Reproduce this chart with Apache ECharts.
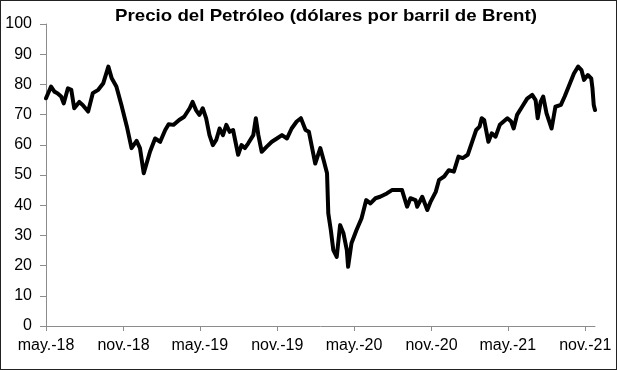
<!DOCTYPE html>
<html><head><meta charset="utf-8">
<script src="https://cdn.jsdelivr.net/npm/echarts@6/dist/echarts.min.js"></script>
<style>
html,body{margin:0;padding:0;background:#fff;}
#c{width:617px;height:370px;box-sizing:border-box;border:1px solid #222;}
</style></head>
<body><div id="c"></div>
<script>
const titleText = 'Precio del Petróleo (dólares por barril de Brent)';
const tickDates = ['2018-05-01','2018-11-01','2019-05-01','2019-11-01','2020-05-01','2020-11-01','2021-05-01','2021-11-01'];
const tickLabels = ['may.-18','nov.-18','may.-19','nov.-19','may.-20','nov.-20','may.-21','nov.-21'];
const axisStart = '2018-05-01';
const axisEnd = '2021-11-24';
const dates = [
'2018-05-01','2018-05-13','2018-05-21','2018-05-28','2018-06-06','2018-06-12','2018-06-22','2018-06-30','2018-07-07','2018-07-19','2018-07-27','2018-08-09','2018-08-20','2018-09-02','2018-09-14','2018-09-26','2018-10-04','2018-10-15','2018-10-27','2018-11-09','2018-11-20','2018-12-02','2018-12-10','2018-12-19',
'2019-01-03','2019-01-15','2019-01-27','2019-02-08','2019-02-16','2019-02-28','2019-03-13','2019-03-25','2019-04-07','2019-04-14','2019-04-22','2019-04-30','2019-05-08','2019-05-16','2019-05-24','2019-06-01','2019-06-09','2019-06-17','2019-06-25','2019-07-03','2019-07-11','2019-07-19','2019-07-31','2019-08-08','2019-08-16','2019-08-24','2019-09-05','2019-09-11','2019-09-17','2019-09-25','2019-10-07','2019-10-19','2019-10-31','2019-11-12','2019-11-24','2019-12-05','2019-12-17','2019-12-27',
'2020-01-07','2020-01-15','2020-01-22','2020-01-30','2020-02-11','2020-02-19','2020-02-27','2020-03-01','2020-03-07','2020-03-13','2020-03-21','2020-03-29','2020-04-06','2020-04-14','2020-04-17','2020-04-25','2020-05-07','2020-05-19','2020-05-30','2020-06-09','2020-06-21','2020-07-02','2020-07-18','2020-07-30','2020-08-11','2020-08-23','2020-09-04','2020-09-12','2020-09-24','2020-09-28','2020-10-10','2020-10-22','2020-10-30','2020-11-11','2020-11-19','2020-12-01','2020-12-12','2020-12-24',
'2021-01-04','2021-01-14','2021-01-26','2021-02-07','2021-02-15','2021-02-23','2021-02-28','2021-03-06','2021-03-16','2021-03-24','2021-04-02','2021-04-12','2021-04-21','2021-04-30','2021-05-09','2021-05-15','2021-05-23','2021-06-04','2021-06-16','2021-06-28','2021-07-06','2021-07-11','2021-07-18','2021-07-24','2021-08-01','2021-08-13','2021-08-22','2021-09-04','2021-09-13','2021-09-24','2021-10-05','2021-10-15','2021-10-23','2021-10-29','2021-11-07','2021-11-15','2021-11-18','2021-11-21','2021-11-24'
];
const prices = [
75.4,79.3,77.6,77.1,76.0,73.7,78.7,78.2,72.1,74.2,73.2,71.0,77.1,78.2,80.4,85.9,82.0,79.3,73.2,66.0,58.9,61.3,58.9,50.6,
57.8,62.1,61.0,64.9,66.8,66.6,68.2,69.3,72.1,74.2,71.5,69.9,72.1,68.8,63.2,59.9,61.6,65.4,63.2,66.6,64.3,64.9,56.7,59.9,58.9,60.5,63.2,68.8,63.2,57.7,59.4,61.0,62.1,63.2,62.1,65.4,67.7,68.8,
64.9,64.3,59.4,53.8,58.9,54.9,50.6,37.3,31.8,25.1,22.9,33.4,30.7,25.1,19.6,27.4,31.8,35.7,41.7,40.6,42.3,42.8,43.9,45.0,45.0,45.0,39.5,42.3,41.7,39.5,42.8,38.4,41.2,44.4,48.4,49.5,51.6,51.1,
56.1,55.6,56.7,61.6,64.9,66.0,68.8,68.2,61.0,63.8,62.7,66.6,67.7,68.8,67.7,65.4,69.9,72.6,75.3,76.5,74.8,68.8,74.2,76.0,70.4,65.4,72.6,73.2,76.0,79.8,83.6,85.9,84.7,81.5,83.1,82.0,78.7,73.2,71.5
];

const ts = s => { const p = s.split('-').map(Number); return Date.UTC(p[0], p[1]-1, p[2]); };
const day = s => (ts(s) - ts(axisStart)) / 86400000;
const tickDays = tickDates.map(day);
const seriesData = dates.map((d,i) => [day(d), prices[i]]);

const chart = echarts.init(document.getElementById('c'), null, {renderer:'canvas'});
const font = 'Liberation Sans, Arial, sans-serif';
chart.setOption({
  animation:false,
  backgroundColor:'#fff',
  graphic:[{type:'text', x: 325, y: 15, scaleX: 1.1, originX: 0, originY: 0,
    style:{text:titleText, font:'bold 17px ' + font, fill:'#000', align:'center', verticalAlign:'middle'}}],
  grid:{left:45, right:21, top:23, bottom:43, containLabel:false},
  xAxis:{
    type:'value', min: 0, max: day(axisEnd),
    axisLine:{lineStyle:{color:'#8c8c8c', width:1}},
    axisTick:{show:true, length:5, lineStyle:{color:'#8c8c8c'}, customValues: tickDays},
    axisLabel:{customValues: tickDays, fontFamily:font, fontSize:16, color:'#000', margin:12,
      formatter: v => { const i = tickDays.indexOf(v); return i>=0 ? tickLabels[i] : ''; }},
    splitLine:{show:false}
  },
  yAxis:{
    type:'value', min:0, max:100, interval:10,
    axisLine:{show:true, lineStyle:{color:'#8c8c8c', width:1}},
    axisTick:{show:true, length:6, lineStyle:{color:'#8c8c8c'}},
    axisLabel:{fontFamily:font, fontSize:16, color:'#000', margin:14},
    splitLine:{show:false}
  },
  series:[{type:'line', data:seriesData, showSymbol:false, symbol:'none',
    lineStyle:{color:'#000', width:4, join:'round', cap:'round'}}]
});
</script></body></html>
